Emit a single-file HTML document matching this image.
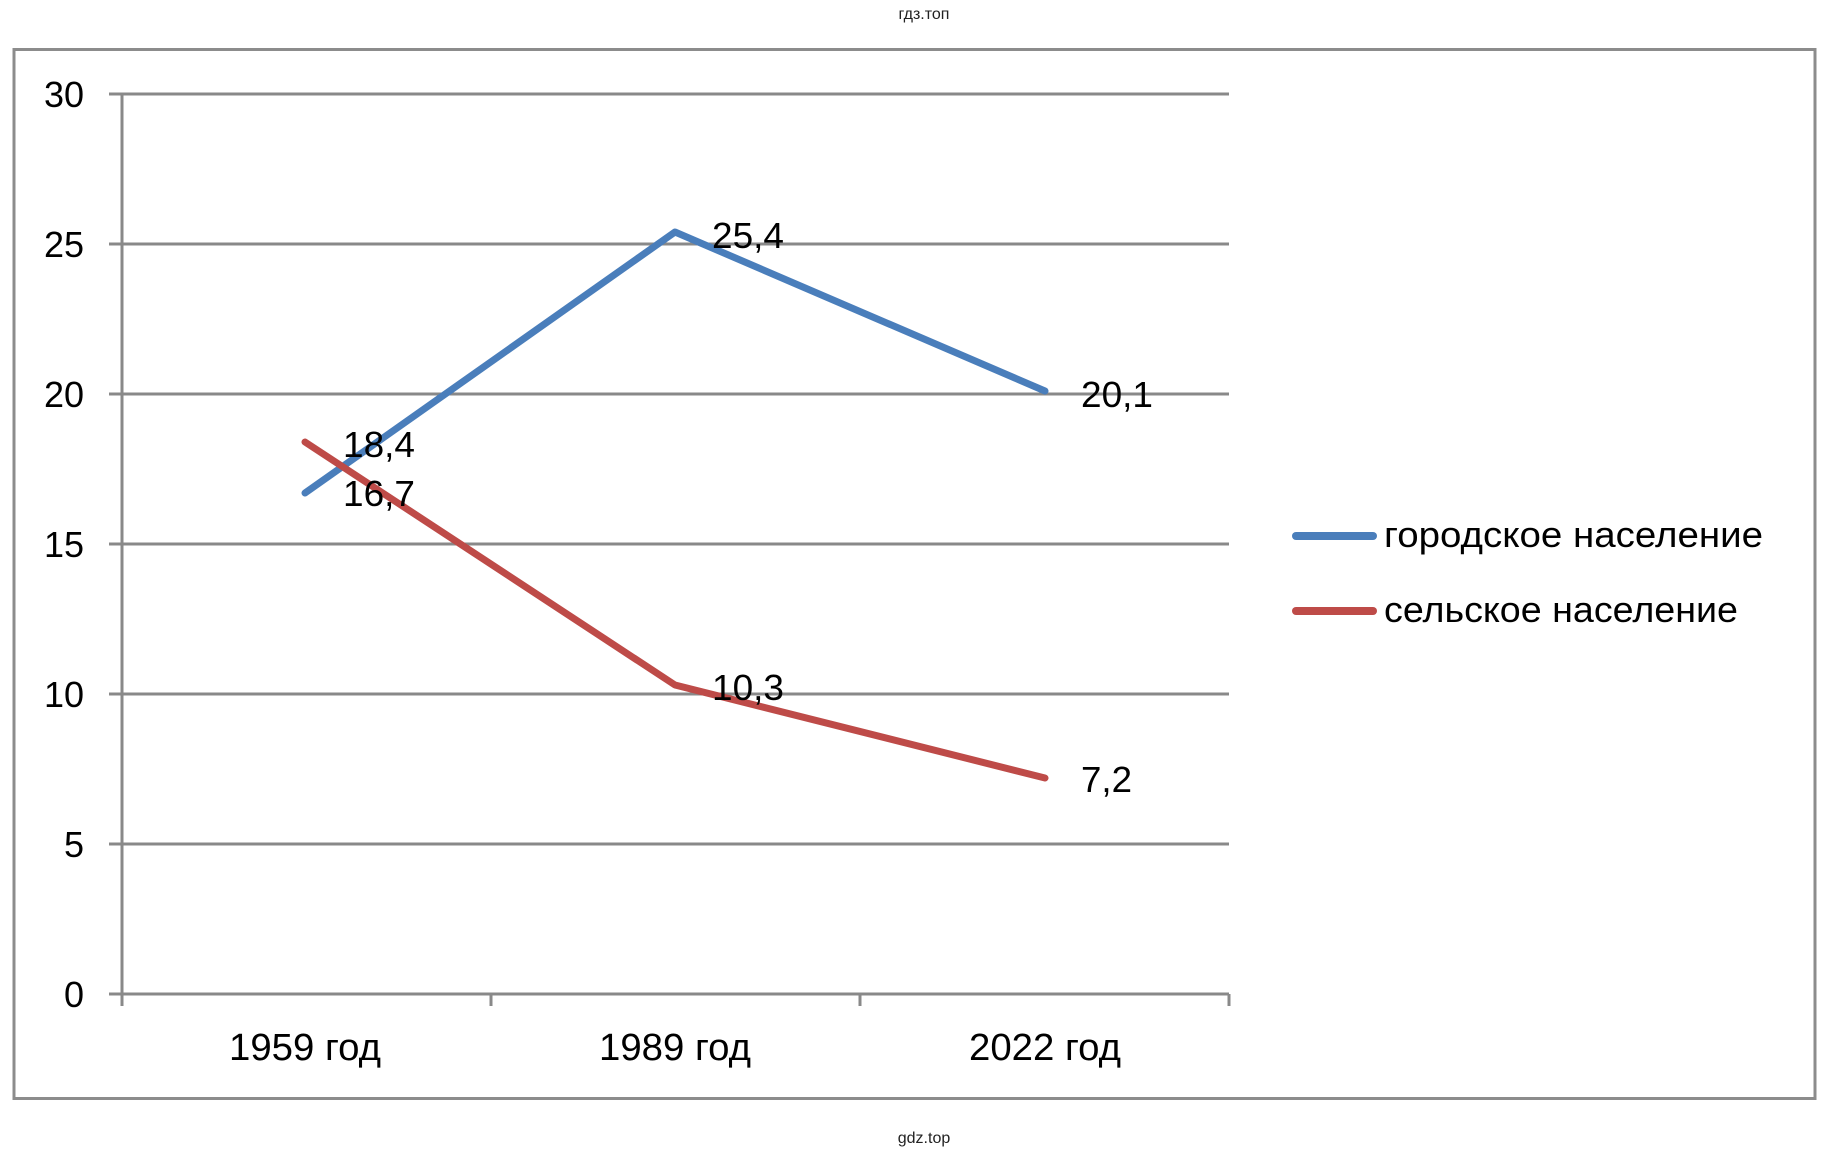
<!DOCTYPE html>
<html><head><meta charset="utf-8"><style>html,body{margin:0;padding:0;background:#fff}svg{display:block}</style></head>
<body>
<svg width="1841" height="1157" xmlns="http://www.w3.org/2000/svg" font-family="'Liberation Sans', sans-serif">
<text x="924" y="19" font-size="16" text-anchor="middle" fill="#222">гдз.топ</text>
<text x="924" y="1143" font-size="16" text-anchor="middle" fill="#222">gdz.top</text>
<rect x="14" y="49.5" width="1801" height="1049" fill="none" stroke="#8c8c8c" stroke-width="3"/>
<g stroke="#898989" stroke-width="3">
<line x1="109" y1="94" x2="1229" y2="94"/>
<line x1="109" y1="244" x2="1229" y2="244"/>
<line x1="109" y1="394" x2="1229" y2="394"/>
<line x1="109" y1="544" x2="1229" y2="544"/>
<line x1="109" y1="694" x2="1229" y2="694"/>
<line x1="109" y1="844" x2="1229" y2="844"/>
<line x1="109" y1="994" x2="1229" y2="994"/>
<line x1="122" y1="94" x2="122" y2="1006"/>
<line x1="491" y1="994" x2="491" y2="1006"/>
<line x1="860" y1="994" x2="860" y2="1006"/>
<line x1="1229" y1="994" x2="1229" y2="1006"/>
</g>
<g font-size="36" text-anchor="end" fill="#000">
<text x="84" y="107">30</text>
<text x="84" y="257">25</text>
<text x="84" y="407">20</text>
<text x="84" y="557">15</text>
<text x="84" y="707">10</text>
<text x="84" y="857">5</text>
<text x="84" y="1007">0</text>
</g>
<g font-size="38" text-anchor="middle" fill="#000">
<text x="305" y="1060" textLength="152" lengthAdjust="spacingAndGlyphs">1959 год</text>
<text x="675" y="1060" textLength="152" lengthAdjust="spacingAndGlyphs">1989 год</text>
<text x="1045" y="1060" textLength="152" lengthAdjust="spacingAndGlyphs">2022 год</text>
</g>
<polyline points="305,493 675,232 1045,391" fill="none" stroke="#4a7ebb" stroke-width="7" stroke-linejoin="round" stroke-linecap="round"/>
<polyline points="305,442 675,685 1045,778" fill="none" stroke="#be4b48" stroke-width="7" stroke-linejoin="round" stroke-linecap="round"/>
<g font-size="36" fill="#000">
<text x="343" y="457" textLength="72" lengthAdjust="spacingAndGlyphs">18,4</text>
<text x="343" y="506" textLength="72" lengthAdjust="spacingAndGlyphs">16,7</text>
<text x="712" y="248" textLength="72" lengthAdjust="spacingAndGlyphs">25,4</text>
<text x="1081" y="407" textLength="72" lengthAdjust="spacingAndGlyphs">20,1</text>
<text x="712" y="700" textLength="72" lengthAdjust="spacingAndGlyphs">10,3</text>
<text x="1081" y="792" textLength="51" lengthAdjust="spacingAndGlyphs">7,2</text>
</g>
<line x1="1296" y1="536" x2="1373" y2="536" stroke="#4a7ebb" stroke-width="8" stroke-linecap="round"/>
<line x1="1296" y1="611" x2="1373" y2="611" stroke="#be4b48" stroke-width="8" stroke-linecap="round"/>
<g font-size="36" fill="#000">
<text x="1384" y="547" textLength="379" lengthAdjust="spacingAndGlyphs">городское население</text>
<text x="1384" y="622" textLength="354" lengthAdjust="spacingAndGlyphs">сельское население</text>
</g>
</svg>
</body></html>
